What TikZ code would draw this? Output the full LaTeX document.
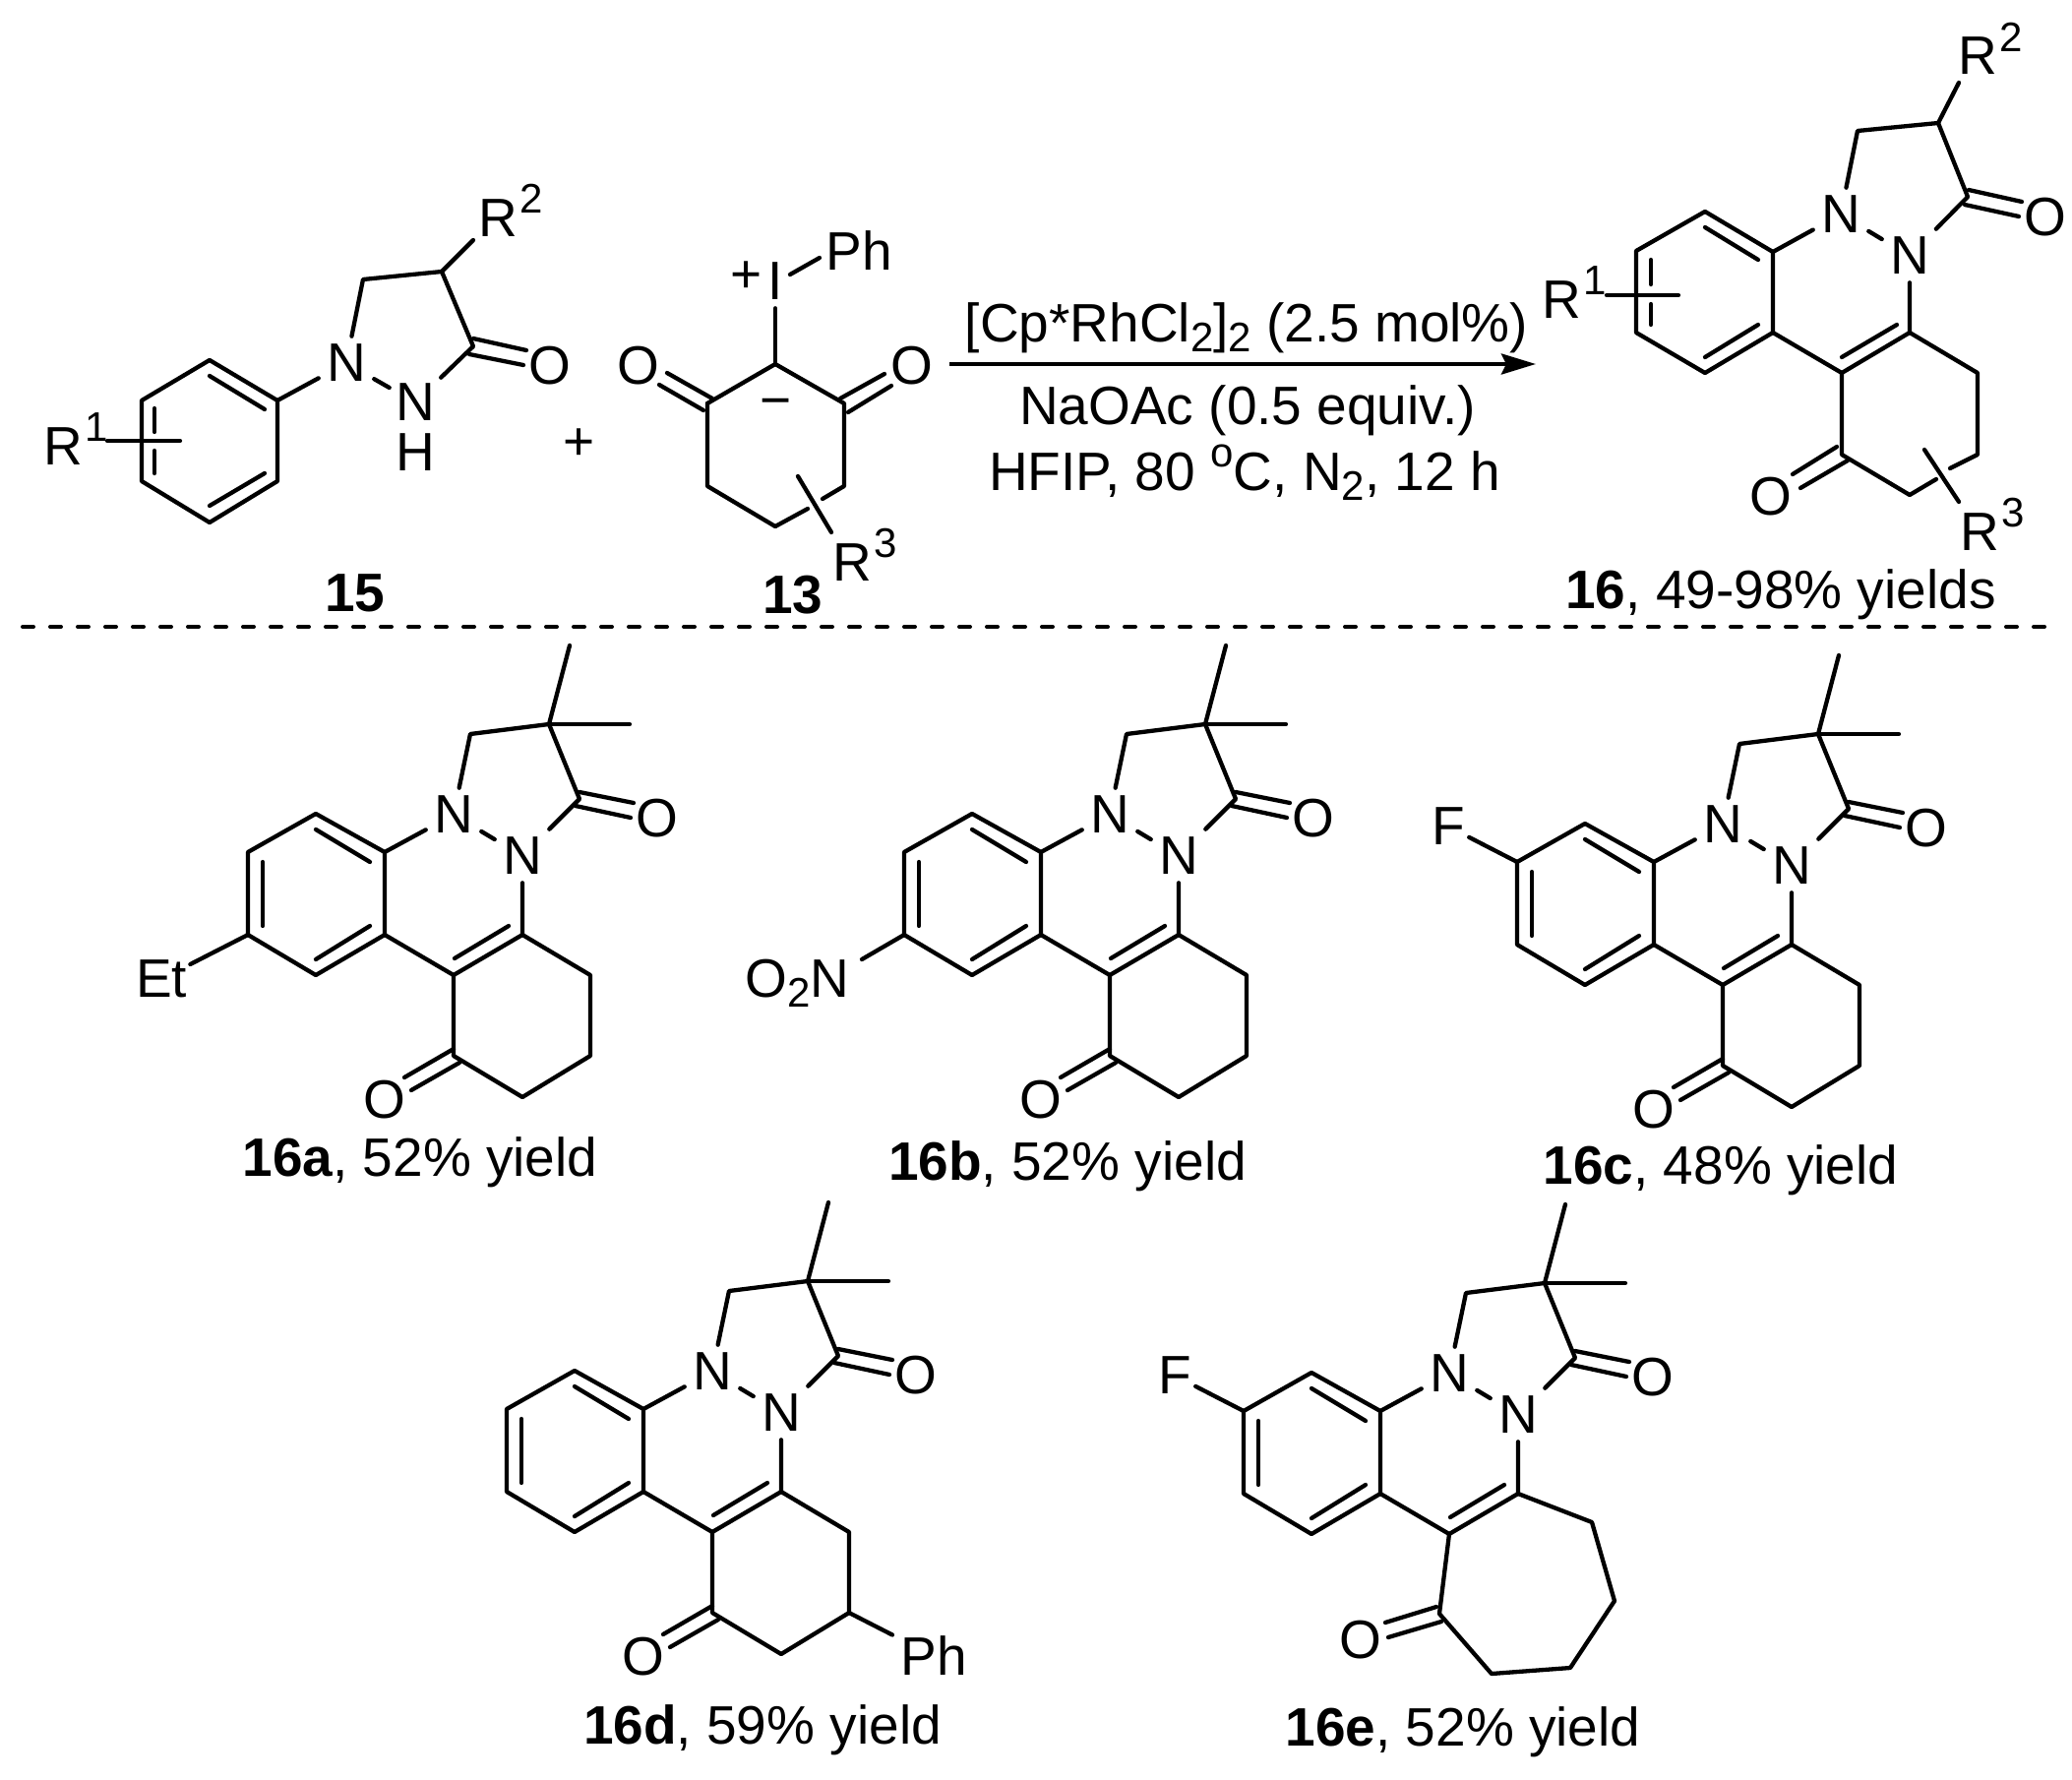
\documentclass[tikz,border=0pt]{standalone}
\usepackage{fontspec}
\setmainfont{Liberation Sans}
\usetikzlibrary{arrows.meta}
\newcommand{\Rsup}[1]{R\raisebox{12pt}{\fontsize{21}{21}\selectfont\hspace{1pt}#1}}
\newcommand{\subt}[1]{\raisebox{-5pt}{\fontsize{21}{21}\selectfont #1}}
\newcommand{\supt}[1]{\raisebox{12pt}{\fontsize{21}{21}\selectfont #1}}
\tikzset{
  bond/.style={line width=2.15pt,line cap=round,line join=round,black},
  atom/.style={inner sep=4pt,font=\fontsize{27.5}{30}\selectfont},
  lab/.style={inner sep=0pt,font=\fontsize{27.5}{30}\selectfont,anchor=base},
  rgroup/.style={inner sep=0pt,font=\fontsize{27.5}{30}\selectfont,anchor=base west},
}
% tricyclic core shared by 16a-e
\newcommand{\scaffold}[3]{%
\begin{scope}[shift={(#2,#3)}]
  \coordinate (#1A1) at (0,-84);
  \coordinate (#1A2) at (-70,-123);
  \coordinate (#1A3) at (-139,-84);
  \coordinate (#1A4) at (-139,0);
  \coordinate (#1A5) at (-70,41);
  \coordinate (#1A6) at (0,0);
  \coordinate (#1B) at (70,41);
  \coordinate (#1C) at (140,0);
  \coordinate (#1H) at (87,-204);
  \coordinate (#1Q) at (167,-214);
  \coordinate (#1Ma) at (249,-214);
  \coordinate (#1Mb) at (188,-294);
  \coordinate (#1K) at (198,-138);
  \node[atom] (#1Na) at (70,-122) {N};
  \node[atom] (#1Nb) at (140,-80) {N};
  \node[atom] (#1Oa) at (277,-118) {O};
  \draw[bond] (#1A1)--(#1A2)--(#1A3)--(#1A4)--(#1A5)--(#1A6)--cycle;
  \draw[bond] (#1A6)--(#1B)--(#1C)--(#1Nb);
  \draw[bond] (#1A1)--(#1Na);
  \draw[bond] (#1Na)--(#1Nb);
  \draw[bond] (#1Na)--(#1H)--(#1Q)--(#1K)--(#1Nb);
  \draw[bond] (#1Q)--(#1Ma);
  \draw[bond] (#1Q)--(#1Mb);
  \draw[bond] (198,-145)--(253,-134);
  \draw[bond] (194,-131)--(250,-119);
  \draw[bond] (-15,-74)--(-70,-107);
  \draw[bond] (-124,-74)--(-124,-9);
  \draw[bond] (-70,25)--(-15,-9);
  \draw[bond] (71,24)--(126,-9);
\end{scope}}
% six-membered ketone ring
\newcommand{\sixring}[3]{%
\begin{scope}[shift={(#2,#3)}]
  \coordinate (#1D) at (70,123);
  \coordinate (#1E) at (140,165);
  \coordinate (#1F) at (209,123);
  \coordinate (#1G) at (209,41);
  \node[atom] (#1Ob) at (0,168) {O};
  \draw[bond] (#1B)--(#1D)--(#1E)--(#1F)--(#1G)--(#1C);
  \draw[bond] (70,116)--(20,145);
  \draw[bond] (76,130)--(27,158);
\end{scope}}
\begin{document}
\begin{tikzpicture}[x=0.5pt,y=-0.5pt]
\useasboundingbox (0,0) rectangle (2106,1809);

% ---------- 15 ----------
\coordinate (p1) at (282,407);
\coordinate (p2) at (213,366);
\coordinate (p3) at (144,407);
\coordinate (p4) at (144,489);
\coordinate (p5) at (213,531);
\coordinate (p6) at (282,489);
\coordinate (pH) at (369,284);
\coordinate (pQ) at (449,276);
\coordinate (pK) at (481,352);
\coordinate (pR) at (481,244);
\node[atom] (pNa) at (352,369) {N};
\node[atom,inner sep=3pt] (pNb) at (422,409) {N};
\node[atom,inner sep=0pt] (pHn) at (422,460) {H};
\node[atom] (pO) at (559,372) {O};
\node[rgroup] (pRa) at (44,472) {\Rsup{1}};
\node[rgroup] (pRb) at (486,241) {\Rsup{2}};
\draw[bond] (p1)--(p2)--(p3)--(p4)--(p5)--(p6)--cycle;
\draw[bond] (213,382)--(269,416);
\draw[bond] (213,514)--(269,481);
\draw[bond] (157,415)--(157,439);
\draw[bond] (157,458)--(157,481);
\draw[bond] (109,448)--(183,448);
\draw[bond] (p1)--(pNa);
\draw[bond] (pNa)--(pNb);
\draw[bond] (pNa)--(pH)--(pQ)--(pK)--(pNb);
\draw[bond] (pQ)--(pR);
\draw[bond] (481,344)--(535,356);
\draw[bond] (477,360)--(532,371);
\node[lab,anchor=center] (plus) at (589,452) {+};

% ---------- 13 ----------
\coordinate (q1) at (788,370);
\coordinate (q2) at (858,410);
\coordinate (q3) at (858,494);
\coordinate (q4) at (788,535);
\coordinate (q5) at (719,494);
\coordinate (q6) at (719,410);
\node[atom] (qI) at (788,286) {I};
\node[lab,anchor=center] (qPlus) at (759,282) {+};
\node[atom] (qPh) at (873,255) {Ph};
\node[lab,anchor=center] (qMinus) at (789,415) {−};
\node[atom] (qOa) at (649,372) {O};
\node[atom] (qOb) at (927,372) {O};
\node[rgroup] (qR) at (846,590) {\Rsup{3}};
\draw[bond] (qI)--(q1);
\draw[bond] (803,279)--(833,262);
\draw[bond] (q6)--(q1)--(q2)--(q3)--(836,507);
\draw[bond] (821,517)--(q4)--(q5)--(q6);
\draw[bond] (811,484)--(845,541);
\draw[bond] (854,405)--(899,380);
\draw[bond] (862,419)--(906,392);
\draw[bond] (678,379)--(724,405);
\draw[bond] (670,391)--(715,417);

\node[lab,font=\fontsize{27.5}{30}\selectfont\bfseries] (l15) at (361,621) {15};
\node[lab,font=\fontsize{27.5}{30}\selectfont\bfseries] (l13) at (806,623) {13};

% ---------- reaction arrow ----------
\coordinate (arS) at (965,370);
\coordinate (arE) at (1561,370);
\draw[line width=2pt,-{Stealth[length=17.5pt,width=10.5pt,inset=2.5pt]}] (arS)--(arE);
\node[lab] (c1) at (1267,347) {[Cp*RhCl\subt{2}]\subt{2} (2.5 mol\%)};
\node[lab] (c2) at (1268,431) {NaOAc (0.5 equiv.)};
\node[lab] (c3) at (1265,498) {HFIP, 80 \supt{o}C, N\subt{2}, 12 h};

% ---------- 16 ----------
\coordinate (r1) at (1802,256);
\coordinate (r2) at (1733,215);
\coordinate (r3) at (1663,255);
\coordinate (r4) at (1663,338);
\coordinate (r5) at (1733,379);
\coordinate (r6) at (1802,338);
\coordinate (rB) at (1872,379);
\coordinate (rC) at (1941,338);
\coordinate (rH) at (1888,133);
\coordinate (rQ) at (1970,125);
\coordinate (rK) at (2000,200);
\coordinate (rRb) at (1991,84);
\coordinate (rD) at (1872,462);
\coordinate (rE) at (1941,503);
\coordinate (rF) at (2010,462);
\coordinate (rG) at (2010,379);
\node[atom] (rNa) at (1871,218) {N};
\node[atom] (rNb) at (1941,260) {N};
\node[atom] (rOa) at (2079,221) {O};
\node[atom] (rOb) at (1800,505) {O};
\node[rgroup] (rL1) at (1567,323) {\Rsup{1}};
\node[rgroup] (rL2) at (1990,76) {\Rsup{2}};
\node[rgroup] (rL3) at (1992,559) {\Rsup{3}};
\draw[bond] (r1)--(r2)--(r3)--(r4)--(r5)--(r6)--cycle;
\draw[bond] (1733,231)--(1787,264);
\draw[bond] (1733,363)--(1787,330);
\draw[bond] (1678,264)--(1678,289);
\draw[bond] (1678,309)--(1678,330);
\draw[bond] (1633,300)--(1706,300);
\draw[bond] (r6)--(rB)--(rC)--(rNb);
\draw[bond] (1872,363)--(1928,330);
\draw[bond] (r1)--(rNa);
\draw[bond] (rNa)--(rNb);
\draw[bond] (rNa)--(rH)--(rQ)--(rK)--(rNb);
\draw[bond] (rQ)--(rRb);
\draw[bond] (2001,193)--(2055,205);
\draw[bond] (1997,208)--(2052,220);
\draw[bond] (rB)--(rD)--(rE)--(1968,487);
\draw[bond] (1982,476)--(rF)--(rG)--(rC);
\draw[bond] (1956,457)--(1991,510);
\draw[bond] (1867,454)--(1822,482);
\draw[bond] (1878,468)--(1830,496);
\node[lab] (l16) at (1810,618) {\textbf{16}, 49-98\% yields};

% ---------- divider ----------
\coordinate (dvS) at (23,637);
\coordinate (dvE) at (2088,637);
\draw[line width=2pt,line cap=round,dash pattern=on 5.5pt off 8.5pt] (dvS)--(dvE);

% ---------- 16a ----------
\scaffold{a}{391}{950}
\sixring{a}{391}{950}
\begin{scope}[shift={(391,950)}]
  \node[atom,inner sep=1.5pt] (aEt) at (-227,45) {Et};
  \draw[bond] (aA4)--(aEt);
\end{scope}
\node[lab] (la) at (427,1195) {\textbf{16a}, 52\% yield};

% ---------- 16b ----------
\scaffold{b}{1058}{950}
\sixring{b}{1058}{950}
\begin{scope}[shift={(1058,950)}]
  \node[lab,anchor=base east] (bNO) at (-194,63) {O\subt{2}N};
  \coordinate (bX) at (-182,25);
  \draw[bond] (bA4)--(bX);
\end{scope}
\node[lab] (lb) at (1085,1199) {\textbf{16b}, 52\% yield};

% ---------- 16c ----------
\scaffold{c}{1681}{960}
\sixring{c}{1681}{960}
\begin{scope}[shift={(1681,960)}]
  \node[atom,inner sep=2pt] (cF) at (-209,-120) {F};
  \draw[bond] (cA3)--(cF);
\end{scope}
\node[lab] (lc) at (1749,1203) {\textbf{16c}, 48\% yield};

% ---------- 16d ----------
\scaffold{d}{654}{1516}
\sixring{d}{654}{1516}
\begin{scope}[shift={(654,1516)}]
  \node[atom] (dPh) at (295,167) {Ph};
  \draw[bond] (dF)--(dPh);
\end{scope}
\node[lab] (ld) at (775,1772) {\textbf{16d}, 59\% yield};

% ---------- 16e ----------
\scaffold{e}{1403}{1518}
\begin{scope}[shift={(1403,1518)}]
  \node[atom,inner sep=2pt] (eF) at (-209,-120) {F};
  \draw[bond] (eA3)--(eF);
  \coordinate (eD) at (60,122);
  \coordinate (eE) at (113,183);
  \coordinate (eG) at (193,177);
  \coordinate (eI) at (238,109);
  \coordinate (eJ) at (215,29);
  \node[atom] (eOb) at (-20,149) {O};
  \draw[bond] (eB)--(eD)--(eE)--(eG)--(eI)--(eJ)--(eC);
  \draw[bond] (57,115)--(5,131);
  \draw[bond] (62,130)--(8,146);
\end{scope}
\node[lab] (le) at (1487,1774) {\textbf{16e}, 52\% yield};
\end{tikzpicture}
\end{document}
